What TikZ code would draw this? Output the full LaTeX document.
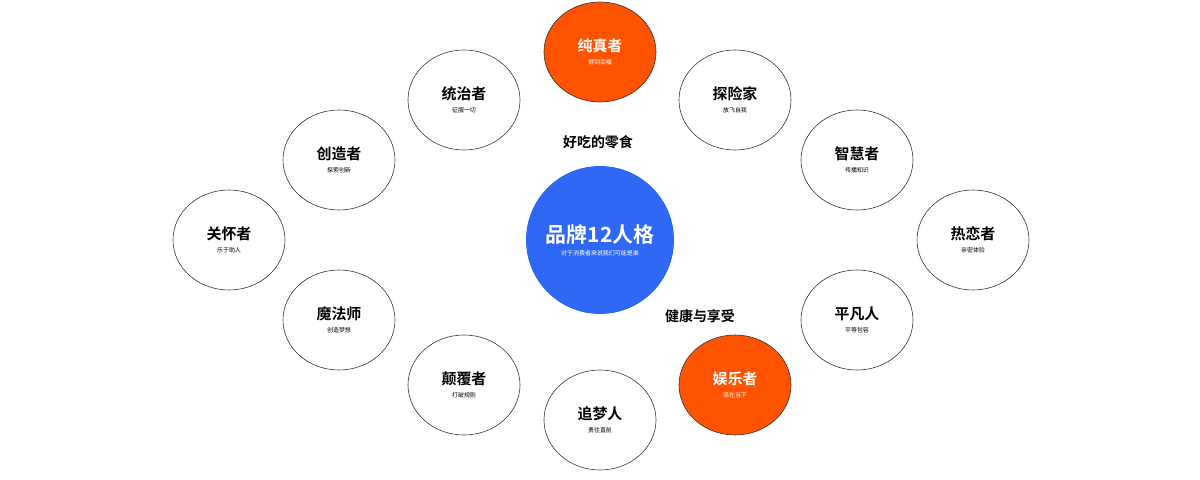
\documentclass[tikz,border=0pt]{standalone}
\usepackage{fontspec}
\newfontfamily\cjk{Noto Sans CJK SC}
\newfontfamily\cjkb{Noto Sans CJK SC Bold}
\definecolor{orng}{HTML}{FF5300}
\definecolor{blu}{HTML}{2F68F5}
\begin{document}
\begin{tikzpicture}[x=1bp,y=-1bp,
  role/.style={ellipse,draw=black!80,line width=0.6bp,minimum width=112bp,minimum height=100bp,inner sep=0,align=center},
  hot/.style={role,fill=orng,text=white},
  cold/.style={role,fill=white,text=black}]
\useasboundingbox (0,0) rectangle (1200,480);
\usetikzlibrary{shapes.geometric}
\newcommand{\rl}[2]{{\cjkb\fontsize{15}{17}\selectfont #1}\\[1bp]{\cjk\fontsize{6}{7}\selectfont #2}}
\node[hot] (pure) at (600,52) {\rl{纯真者}{得到幸福}};
\node[cold] (ruler) at (464,100) {\rl{统治者}{征服一切}};
\node[cold] (expl) at (735,100) {\rl{探险家}{放飞自我}};
\node[cold] (crea) at (339,160) {\rl{创造者}{探索创新}};
\node[cold] (sage) at (857,160) {\rl{智慧者}{传播知识}};
\node[cold] (care) at (229,240) {\rl{关怀者}{乐于助人}};
\node[cold] (love) at (973,240) {\rl{热恋者}{亲密体验}};
\node[cold] (magi) at (339,320) {\rl{魔法师}{创造梦想}};
\node[cold] (ever) at (857,320) {\rl{平凡人}{平等包容}};
\node[cold] (outl) at (464,385) {\rl{颠覆者}{打破规则}};
\node[cold] (hero) at (600,420) {\rl{追梦人}{勇往直前}};
\node[hot] (jest) at (735,385) {\rl{娱乐者}{活在当下}};
\node[circle,fill=blu,minimum size=148bp,inner sep=0,text=white,align=center] (core) at (600,240)
  {{\cjkb\fontsize{21}{24}\selectfont 品牌12人格}\\[1bp]{\cjk\fontsize{6}{7}\selectfont 对于消费者来说我们可能是谁}};
\node[font=\cjkb\fontsize{14}{16}\selectfont] (t1) at (598,142) {好吃的零食};
\node[font=\cjkb\fontsize{14}{16}\selectfont] (t2) at (700,316) {健康与享受};
\end{tikzpicture}
\end{document}
